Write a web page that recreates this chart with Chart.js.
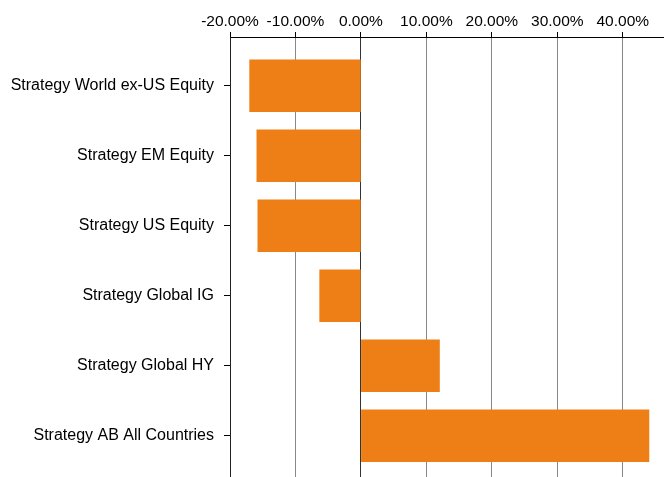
<!DOCTYPE html>
<html>
<head>
<meta charset="utf-8">
<script src="https://cdn.jsdelivr.net/npm/chart.js@4.4.0/dist/chart.umd.min.js"></script>
<style>
html,body{margin:0;padding:0;background:#fff;}
#wrap{width:664px;height:477px;}
</style>
</head>
<body>
<div id="wrap"><canvas id="c" width="664" height="477"></canvas></div>
<script>
const categories = [
  "Strategy World ex-US Equity",
  "Strategy EM Equity",
  "Strategy US Equity",
  "Strategy Global IG",
  "Strategy Global HY",
  "Strategy AB All Countries"
];
const values = [-17.0, -15.9, -15.75, -6.3, 12.0, 44.0];
const xTicks = [-20, -10, 0, 10, 20, 30, 40];

const points = values.map((v, i) => ({x: v, y: i}));

new Chart(document.getElementById('c'), {
  type: 'bar',
  data: {
    datasets: [{
      data: points,
      backgroundColor: '#EE7F16',
      borderWidth: 0,
      barThickness: 52
    }]
  },
  options: {
    indexAxis: 'y',
    responsive: false,
    animation: false,
    layout: {padding: 0},
    plugins: {legend: {display: false}, tooltip: {enabled: false}},
    scales: {
      x: {
        type: 'linear',
        position: 'top',
        min: -20,
        max: 46.3,
        afterBuildTicks: (s) => { s.ticks = xTicks.map(v => ({value: v})); },
        afterFit: (s) => { s.height = 37; s.paddingLeft = 0; s.paddingRight = 0; },
        ticks: {
          color: '#000',
          font: {family: 'Liberation Sans, Arial, sans-serif', size: 15.5},
          padding: 1,
          maxRotation: 0,
          callback: (v) => v.toFixed(2) + '%'
        },
        grid: {
          color: (ctx) => (ctx.tick && ctx.tick.value === 0) ? '#333' : '#888',
          lineWidth: 1,
          tickLength: 5,
          tickColor: '#000'
        },
        border: {display: true, color: '#000', width: 1}
      },
      y: {
        type: 'linear',
        reverse: true,
        offset: false,
        min: -0.697,
        max: 5.589,
        afterBuildTicks: (s) => { s.ticks = categories.map((c, i) => ({value: i})); },
        afterFit: (s) => { s.width = 230; s.paddingTop = 0; s.paddingBottom = 0; },
        ticks: {
          color: '#000',
          font: {family: 'Liberation Sans, Arial, sans-serif', size: 16},
          padding: 10,
          callback: (v) => categories[v]
        },
        grid: {
          offset: false,
          drawOnChartArea: false,
          tickLength: 6,
          tickColor: '#000'
        },
        border: {display: true, color: '#222', width: 1}
      }
    }
  }
});
</script>
</body>
</html>
